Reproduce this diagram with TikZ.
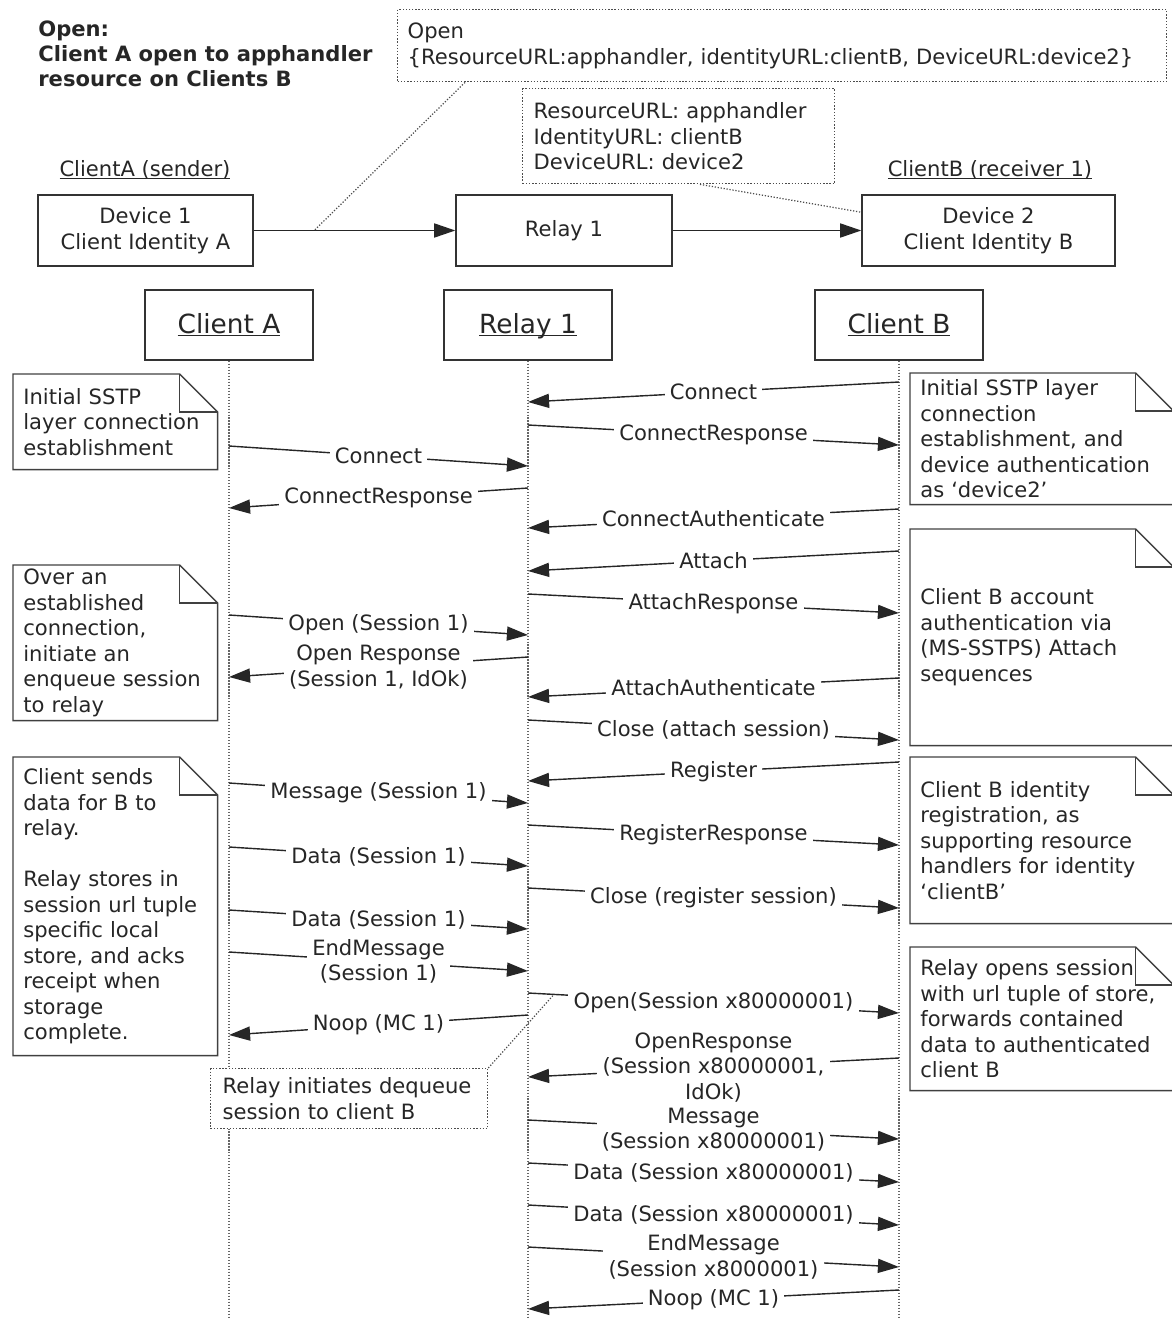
\documentclass[tikz,border=0pt]{standalone}
\usepackage{fontspec}
\setmainfont{DejaVu Sans}
\usetikzlibrary{positioning, arrows.meta, calc}

% folded corner of a note
\newcommand{\notefold}[1]{%
  \draw[line width=0.8pt, draw=black!75] (#1.south west) -- (#1.north west) -- ([xshift=-0.76cm]#1.north east) -- ([yshift=-0.76cm]#1.north east) -- (#1.south east) -- cycle;
  \draw[line width=0.8pt, draw=black!75] ([xshift=-0.76cm]#1.north east) |- ([yshift=-0.76cm]#1.north east);}
% underline at baseline level, descenders ignored
\newcommand{\ulbl}[1]{\underline{\raisebox{0pt}[\height][0pt]{#1}}}

\begin{document}
\begin{tikzpicture}[x=0.02cm, y=-0.02cm,
  every node/.style={font=\fontsize{12}{14.5}\selectfont, text=black!85},
  box/.style={draw=black!80, line width=0.85pt, fill=white, align=center},
  head/.style={box, minimum width=3.36cm, minimum height=1.4cm, font=\fontsize{15}{18}\selectfont},
  dev/.style={box, minimum height=1.42cm},
  infobox/.style={draw=black!70, densely dotted, line width=0.8pt, fill=white, align=left, anchor=north west, inner xsep=0.2cm, inner ysep=0pt},
  note/.style={align=left, anchor=north west, inner xsep=0.2cm, inner ysep=0pt},
  life/.style={draw=black!60, densely dotted, line width=0.7pt},
  msg/.style={line width=0.8pt, draw=black!85, -{Triangle[length=12pt,width=8pt]}},
  lbl/.style={fill=white, inner xsep=3pt, inner ysep=1pt, align=center, pos=0.5},
  leader/.style={draw=black!70, densely dotted, line width=0.7pt}]

  \useasboundingbox (0,0) rectangle (1172,1318);
  \clip (0,0) rectangle (1172,1318);

  % Title and top overview
  \node[anchor=north west, align=left, inner sep=0, font=\bfseries\fontsize{12}{14.2}\selectfont] (title) at (38,21) {Open:\\Client A open to apphandler\\resource on Clients B};

  \node[infobox, text width=14.98cm, minimum height=1.44cm] (open) at (397,9) {Open\\\{ResourceURL:apphandler, identityURL:clientB, DeviceURL:device2\}};
  \node[infobox, inner xsep=0.22cm, text width=5.8cm, minimum height=1.9cm] (urls) at (522,88) {ResourceURL: apphandler\\IdentityURL: clientB\\DeviceURL: device2};

  \node (lblA) at (145,170) {\ulbl{ClientA (sender)}};
  \node (lblB) at (990,170) {\ulbl{ClientB (receiver 1)}};

  \node[dev, minimum width=4.3cm] (dev1) at (145.5,230.5) {Device 1\\Client Identity A};
  \node[dev, minimum width=4.32cm] (relay) at (564,230.5) {Relay 1};
  \node[dev, minimum width=5.06cm] (dev2) at (988.5,230.5) {Device 2\\Client Identity B};

  \draw[msg, line width=0.9pt] (dev1) -- coordinate[pos=0.3] (c1) (relay);
  \draw[msg, line width=0.9pt] (relay) -- (dev2);
  \draw[leader] ($(open.south west)+(68,0)$) -- (c1);
  \draw[leader] ($(urls.south west)+(178,0)$) -- ($(dev2.north west)+(0,18)$);

  % Lifelines
  \node[head] (CA) at (229,325) {\ulbl{Client A}};
  \node[head] (R1) at (528,325) {\ulbl{Relay 1}};
  \node[head] (CB) at (899,325) {\ulbl{Client B}};
  \coordinate (bot) at (0,1318);
  \coordinate (a) at (229,0);
  \coordinate (r) at (528,0);
  \coordinate (b) at (899,0);
  \draw[life] (CA.south) -- (CA.south |- bot);
  \draw[life] (R1.south) -- (R1.south |- bot);
  \draw[life] (CB.south) -- (CB.south |- bot);

  % Client A <-> Relay 1
  \draw[msg] ($(a)+(0,446)$) -- node[lbl]{Connect} ($(r)+(0,466)$);
  \draw[msg] ($(r)+(0,488)$) -- node[lbl]{ConnectResponse} ($(a)+(0,508)$);
  \draw[msg] ($(a)+(0,615)$) -- node[lbl]{Open (Session 1)} ($(r)+(0,635)$);
  \draw[msg] ($(r)+(0,657)$) -- node[lbl]{Open Response\\(Session 1, IdOk)} ($(a)+(0,677)$);
  \draw[msg] ($(a)+(0,783)$) -- node[lbl]{Message (Session 1)} ($(r)+(0,803)$);
  \draw[msg] ($(a)+(0,847)$) -- node[lbl]{Data (Session 1)} ($(r)+(0,866)$);
  \draw[msg] ($(a)+(0,910)$) -- node[lbl]{Data (Session 1)} ($(r)+(0,929)$);
  \draw[msg] ($(a)+(0,952)$) -- node[lbl]{EndMessage\\(Session 1)} ($(r)+(0,971)$);
  \draw[msg] ($(r)+(0,1015)$) -- node[lbl]{Noop (MC 1)} ($(a)+(0,1035)$);

  % Client B <-> Relay 1
  \draw[msg] ($(b)+(0,382)$) -- node[lbl]{Connect} ($(r)+(0,402)$);
  \draw[msg] ($(r)+(0,425)$) -- node[lbl]{ConnectResponse} ($(b)+(0,445)$);
  \draw[msg] ($(b)+(0,509)$) -- node[lbl]{ConnectAuthenticate} ($(r)+(0,528)$);
  \draw[msg] ($(b)+(0,551)$) -- node[lbl]{Attach} ($(r)+(0,571)$);
  \draw[msg] ($(r)+(0,594)$) -- node[lbl]{AttachResponse} ($(b)+(0,613)$);
  \draw[msg] ($(b)+(0,678)$) -- node[lbl]{AttachAuthenticate} ($(r)+(0,697)$);
  \draw[msg] ($(r)+(0,720)$) -- node[lbl]{Close (attach session)} ($(b)+(0,740)$);
  \draw[msg] ($(b)+(0,762)$) -- node[lbl]{Register} ($(r)+(0,781)$);
  \draw[msg] ($(r)+(0,825)$) -- node[lbl]{RegisterResponse} ($(b)+(0,845)$);
  \draw[msg] ($(r)+(0,888)$) -- node[lbl]{Close (register session)} ($(b)+(0,908)$);
  \draw[msg] ($(r)+(0,993)$) -- coordinate[pos=0.07] (dq) node[lbl]{Open(Session x80000001)} ($(b)+(0,1013)$);
  \draw[msg] ($(b)+(0,1058)$) -- node[lbl]{OpenResponse\\(Session x80000001,\\IdOk)} ($(r)+(0,1077)$);
  \draw[msg] ($(r)+(0,1120)$) -- node[lbl]{Message\\(Session x80000001)} ($(b)+(0,1139)$);
  \draw[msg] ($(r)+(0,1163)$) -- node[lbl]{Data (Session x80000001)} ($(b)+(0,1182)$);
  \draw[msg] ($(r)+(0,1205)$) -- node[lbl]{Data (Session x80000001)} ($(b)+(0,1225)$);
  \draw[msg] ($(r)+(0,1247)$) -- node[lbl]{EndMessage\\(Session x8000001)} ($(b)+(0,1267)$);
  \draw[msg] ($(b)+(0,1290)$) -- node[lbl]{Noop (MC 1)} ($(r)+(0,1309)$);

  % Notes
  \node[note, text width=3.68cm, minimum height=1.9cm] (n1) at (13,374) {Initial SSTP\\layer connection\\establishment};
  \notefold{n1}
  \node[note, text width=3.68cm, minimum height=3.1cm] (n2) at (13,565) {Over an\\established\\connection,\\initiate an\\enqueue session\\to relay};
  \notefold{n2}
  \node[note, text width=3.68cm, minimum height=5.96cm] (n3) at (13,757) {Client sends\\data for B to\\relay.\\[14.5pt]Relay stores in\\session url tuple\\specific local\\store, and acks\\receipt when\\storage\\complete.};
  \notefold{n3}
  \node[note, text width=4.86cm, minimum height=2.62cm] (n4) at (910,373) {Initial SSTP layer\\connection\\establishment, and\\device authentication\\as `device2'};
  \notefold{n4}
  \node[note, text width=4.86cm, minimum height=4.32cm] (n5) at (910,529) {Client B account\\authentication via\\(MS-SSTPS) Attach\\sequences};
  \notefold{n5}
  \node[note, text width=4.86cm, minimum height=3.32cm] (n6) at (910,757) {Client B identity\\registration, as\\supporting resource\\handlers for identity\\`clientB'};
  \notefold{n6}
  \node[note, text width=4.86cm, minimum height=2.86cm] (n7) at (910,947) {Relay opens session\\with url tuple of store,\\forwards contained\\data to authenticated\\client B};
  \notefold{n7}

  \node[infobox, inner xsep=0.24cm, text width=5.06cm, minimum height=1.2cm] (deq) at (210,1068) {Relay initiates dequeue\\session to client B};
  \draw[leader] (deq.north east) -- (dq);
\end{tikzpicture}
\end{document}
